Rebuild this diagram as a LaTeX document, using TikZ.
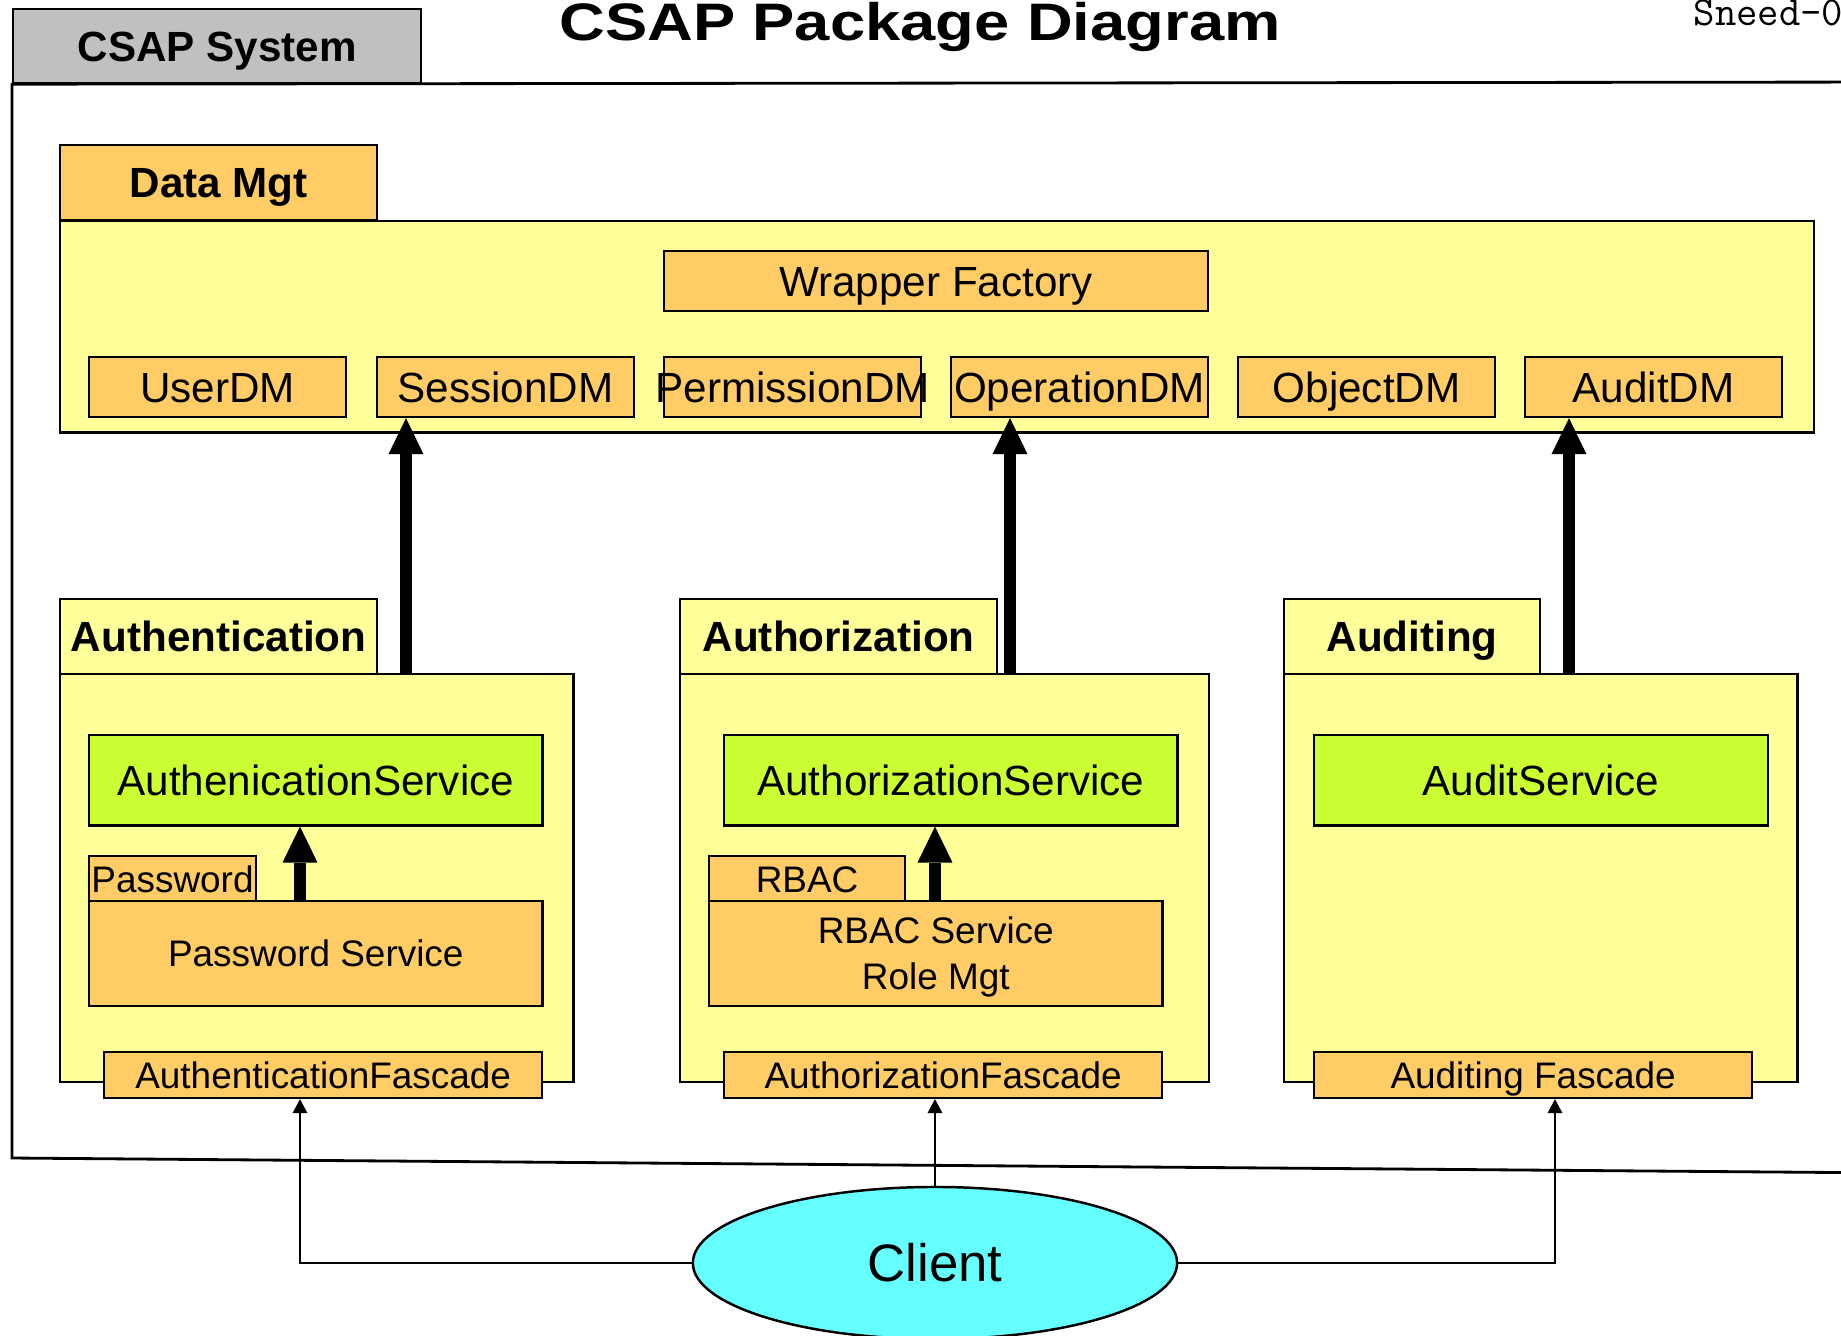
\documentclass[tikz,border=0pt]{standalone}
\usepackage{fontspec}
\setmainfont{Liberation Sans}
\usetikzlibrary{arrows.meta,shapes.geometric}

\definecolor{pkgorange}{HTML}{FFCC66}
\definecolor{pkgyellow}{HTML}{FFFF99}
\definecolor{pkggreen}{HTML}{CCFF33}
\definecolor{pkgcyan}{HTML}{66FFFF}
\definecolor{pkggray}{HTML}{C0C0C0}

\newcommand{\pkgfont}{\fontsize{12}{14}\selectfont}
\newcommand{\smallpkgfont}{\fontsize{10.5}{13.2}\selectfont}

\begin{document}
\begin{tikzpicture}
  [x=0.01cm, y=-0.01cm]
  \tikzstyle{box} = [draw=black, line width=0.6pt, inner sep=0pt, anchor=north west];
  \tikzstyle{orange_box} = [box, fill=pkgorange, font=\pkgfont, text height=8.6pt, text depth=0pt];
  \tikzstyle{small_box}  = [box, fill=pkgorange, font=\smallpkgfont, text height=7.5pt, text depth=0pt];
  \tikzstyle{green_box}  = [box, fill=pkggreen, font=\pkgfont, text height=8.6pt, text depth=0pt];
  \tikzstyle{yellow_box} = [box, fill=pkgyellow];
  \tikzstyle{tab_box}    = [box, font=\pkgfont\bfseries, text height=8.6pt, text depth=0pt];
  \tikzstyle{big_arrow}  = [line width=3.4pt, -{Triangle[width=0.35cm, length=0.36cm, line width=0pt]}];
  \tikzstyle{thin_arrow} = [line width=0.7pt, -{Triangle[width=0.15cm, length=0.14cm, line width=0pt]}];

  \clip (0, 0) rectangle (1841, 1335);
  \fill[white] (0, 0) rectangle (1841, 1335);

  % system frame and heading
  \node[tab_box, fill=pkggray, minimum width=4.08cm, minimum height=0.74cm] (sys_tab) at (12, 8) {CSAP System};
  \draw[line width=0.8pt] (1900, 82) -- (sys_tab.south west) -- (12, 1158) -- (1900, 1173);
  \node[anchor=base, inner sep=0pt] (title) at (920, 40)
    {\scalebox{1.2}[1]{\fontsize{15}{17}\selectfont\bfseries CSAP Package Diagram}};
  \node[font=\fontsize{11.8}{13}\selectfont\ttfamily, anchor=base west, inner sep=0pt] (doc_id) at (1693, 25) {Sneed-0};

  % Data Mgt
  \node[tab_box, fill=pkgorange, minimum width=3.17cm, minimum height=0.752cm] (data_tab) at (59, 144) {Data Mgt};
  \node[yellow_box, minimum width=17.53cm, minimum height=2.113cm] (data_body) at (59, 220) {};
  \node[orange_box, minimum width=5.436cm, minimum height=0.60cm] (wrapper) at (663, 250) {Wrapper Factory};

  \node[orange_box, minimum width=2.57cm, minimum height=0.60cm] (user_dm)   at (88, 356)   {UserDM};
  \node[orange_box, minimum width=2.57cm, minimum height=0.60cm] (session_dm) at (376, 356) {SessionDM};
  \node[orange_box, minimum width=2.57cm, minimum height=0.60cm] (perm_dm)   at (663, 356)  {\makebox[0pt]{PermissionDM}};
  \node[orange_box, minimum width=2.57cm, minimum height=0.60cm] (oper_dm)   at (950, 356)  {OperationDM};
  \node[orange_box, minimum width=2.57cm, minimum height=0.60cm] (object_dm) at (1237, 356) {ObjectDM};
  \node[orange_box, minimum width=2.57cm, minimum height=0.60cm] (audit_dm)  at (1524, 356) {AuditDM};

  % Authentication
  \node[tab_box, fill=pkgyellow, minimum width=3.17cm, minimum height=0.752cm] (authn_tab) at (59, 598) {Authentication};
  \node[yellow_box, minimum width=5.131cm, minimum height=4.074cm] (authn_body) at (59, 673) {};
  \node[green_box, minimum width=4.532cm, minimum height=0.904cm] (authn_service) at (88, 734) {AuthenicationService};
  \node[small_box, minimum width=1.668cm, minimum height=0.458cm] (pw_tab) at (88, 855) {Password};
  \node[small_box, minimum width=4.532cm, minimum height=1.045cm] (pw_service) at (88, 900) {Password Service};
  \node[small_box, minimum width=4.379cm, minimum height=0.46cm] (authn_fascade) at (103, 1051) {AuthenticationFascade};

  % Authorization
  \node[tab_box, fill=pkgyellow, minimum width=3.17cm, minimum height=0.752cm] (authz_tab) at (679, 598) {Authorization};
  \node[yellow_box, minimum width=5.284cm, minimum height=4.074cm] (authz_body) at (679, 673) {};
  \node[green_box, minimum width=4.532cm, minimum height=0.904cm] (authz_service) at (723, 734) {AuthorizationService};
  \node[small_box, minimum width=1.96cm, minimum height=0.458cm] (rbac_tab) at (708, 855) {RBAC};
  \node[box, fill=pkgorange, font=\smallpkgfont, align=center, text depth=0pt,
        minimum width=4.532cm, minimum height=1.045cm] (rbac_service) at (708, 900) {RBAC Service\\Role Mgt};
  \node[small_box, minimum width=4.38cm, minimum height=0.46cm] (authz_fascade) at (723, 1051) {AuthorizationFascade};

  % Auditing
  \node[tab_box, fill=pkgyellow, minimum width=2.559cm, minimum height=0.752cm] (audit_tab) at (1283, 598) {Auditing};
  \node[yellow_box, minimum width=5.131cm, minimum height=4.074cm] (audit_body) at (1283, 673) {};
  \node[green_box, minimum width=4.533cm, minimum height=0.904cm] (audit_service) at (1313, 734) {AuditService};
  \node[small_box, minimum width=4.38cm, minimum height=0.46cm] (audit_fascade) at (1313, 1051) {Auditing Fascade};

  % Client
  \node[ellipse, draw, fill=pkgcyan, line width=0.7pt, minimum width=4.84cm, minimum height=1.52cm, inner sep=0pt,
        font=\fontsize{15}{18}\selectfont] (client) at (935, 1263) {Client};

  \coordinate (authn_x) at (406, 0);
  \coordinate (authz_x) at (1010, 0);
  \coordinate (audit_x) at (1569, 0);
  \coordinate (left_x)  at (300, 0);
  \coordinate (mid_x)   at (935, 0);
  \coordinate (right_x) at (1555, 0);

  % dependencies
  \draw[big_arrow] (authn_x |- authn_body.north) -- (authn_x |- session_dm.south);
  \draw[big_arrow] (authz_x |- authz_body.north) -- (authz_x |- oper_dm.south);
  \draw[big_arrow] (audit_x |- audit_body.north) -- (audit_x |- audit_dm.south);
  \draw[big_arrow] (left_x |- pw_service.north) -- (left_x |- authn_service.south);
  \draw[big_arrow] (mid_x |- rbac_service.north) -- (mid_x |- authz_service.south);

  \draw[thin_arrow] (client.west) -| (left_x |- authn_fascade.south);
  \draw[thin_arrow] (client.north) -- (client.north |- authz_fascade.south);
  \draw[thin_arrow] (client.east) -| (right_x |- audit_fascade.south);

\end{tikzpicture}
\end{document}
